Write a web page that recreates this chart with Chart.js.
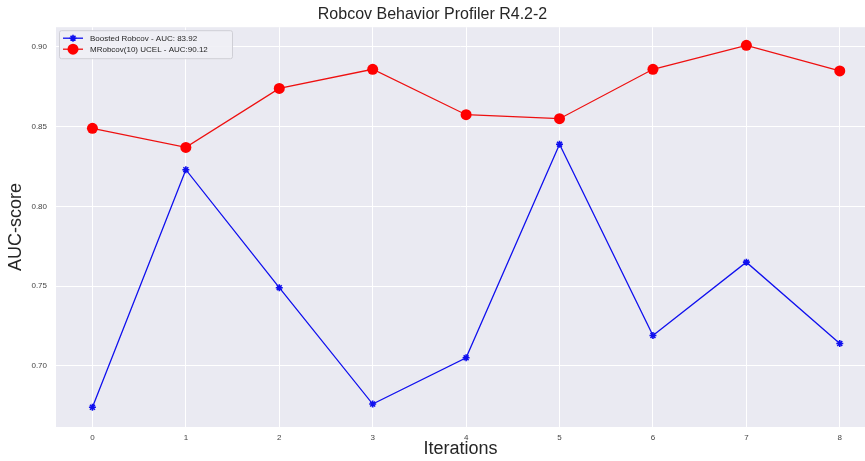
<!DOCTYPE html>
<html>
<head>
<meta charset="utf-8">
<script src="https://cdn.jsdelivr.net/npm/chart.js@4/dist/chart.umd.min.js"></script>
<style>
  html, body { margin: 0; padding: 0; background: #fff; }
  #wrap { width: 865px; height: 461px; }
</style>
</head>
<body>
<div id="wrap"><canvas id="myChart"></canvas></div>
<script>
// data
const iterations = [0, 1, 2, 3, 4, 5, 6, 7, 8];
const boostedRobcov = [0.674, 0.823, 0.749, 0.676, 0.705, 0.839, 0.719, 0.765, 0.714];
const mRobcovUcel = [0.849, 0.837, 0.874, 0.886, 0.8575, 0.855, 0.886, 0.901, 0.885];
const seriesLabels = ['Boosted Robcov - AUC: 83.92', 'MRobcov(10) UCEL - AUC:90.12'];
const yTicks = [0.70, 0.75, 0.80, 0.85, 0.90];
const xTicks = [0, 1, 2, 3, 4, 5, 6, 7, 8];

const FONT = "'Liberation Sans', Arial, sans-serif";
const BG = '#EAEAF2';

// seaborn-like grey plot background
const plotBackground = {
    id: 'plotBackground',
    beforeDraw(chart) {
        const { ctx, chartArea: a } = chart;
        ctx.save();
        ctx.fillStyle = BG;
        ctx.fillRect(a.left, a.top, a.right - a.left, a.bottom - a.top);
        ctx.restore();
    }
};

// legend drawn inside the plot, top left
const insideLegend = {
    id: 'insideLegend',
    afterDraw(chart) {
        const { ctx, chartArea: a } = chart;
        const x = a.left + 3, y = a.top + 3, w = 173, h = 28;
        ctx.save();
        ctx.fillStyle = 'rgba(240,240,245,0.9)';
        ctx.strokeStyle = '#cfcfd6';
        ctx.lineWidth = 1;
        ctx.beginPath();
        ctx.roundRect(x + 0.5, y + 0.5, w, h, 2);
        ctx.fill();
        ctx.stroke();
        ctx.font = '8px ' + FONT;
        ctx.textBaseline = 'middle';
        chart.data.datasets.forEach((ds, i) => {
            const ly = y + 8 + i * 11;
            ctx.strokeStyle = ds.borderColor;
            ctx.fillStyle = ds.backgroundColor;
            ctx.lineWidth = 1.3;
            ctx.beginPath();
            ctx.moveTo(x + 4, ly);
            ctx.lineTo(x + 24, ly);
            ctx.stroke();
            ctx.lineWidth = ds.pointBorderWidth || 1;
            Chart.helpers.drawPoint(ctx, {
                pointStyle: ds.pointStyle,
                radius: ds.pointRadius,
                borderWidth: ds.pointBorderWidth || 0
            }, x + 14, ly);
            ctx.fillStyle = '#262626';
            ctx.fillText(ds.label, x + 31, ly + 0.5);
        });
        ctx.restore();
    }
};

const ctx = document.getElementById('myChart');

new Chart(ctx, {
    type: 'line',
    data: {
        datasets: [{
            label: seriesLabels[0],
            data: iterations.map((it, i) => ({ x: it, y: boostedRobcov[i] })),
            borderColor: '#1010ee',
            backgroundColor: '#1010ee',
            borderWidth: 1.3,
            pointStyle: 'star',
            pointRadius: 3.5,
            pointBorderWidth: 1.6,
            tension: 0
        }, {
            label: seriesLabels[1],
            data: iterations.map((it, i) => ({ x: it, y: mRobcovUcel[i] })),
            borderColor: '#ee1010',
            backgroundColor: '#ff0000',
            borderWidth: 1.3,
            pointStyle: 'circle',
            pointRadius: 5.5,
            pointBorderWidth: 0,
            tension: 0
        }]
    },
    options: {
        responsive: true,
        maintainAspectRatio: false,
        devicePixelRatio: 1,
        animation: false,
        layout: { padding: 0, autoPadding: false },
        plugins: {
            legend: { display: false },
            tooltip: { enabled: false },
            title: {
                display: true,
                text: 'Robcov Behavior Profiler R4.2-2',
                color: '#262626',
                font: { family: FONT, size: 16, weight: 'normal' },
                padding: { top: 5, bottom: 3 }
            }
        },
        scales: {
            x: {
                type: 'linear',
                min: -0.39,
                max: 8.27,
                afterFit(scale) {
                    scale.height = 34;
                    scale.paddingLeft = 0;
                    scale.paddingRight = 0;
                },
                afterBuildTicks(scale) { scale.ticks = xTicks.map(v => ({ value: v })); },
                grid: { color: '#ffffff', lineWidth: 1, drawTicks: false },
                border: { display: false },
                ticks: {
                    color: '#444',
                    font: { family: FONT, size: 8 },
                    padding: 6,
                    callback: v => String(v)
                },
                title: {
                    display: true,
                    text: 'Iterations',
                    color: '#262626',
                    font: { family: FONT, size: 18 },
                    padding: { top: 0, bottom: 1 }
                }
            },
            y: {
                min: 0.6616,
                max: 0.9124,
                afterFit(scale) {
                    scale.width = 56;
                    scale.paddingTop = 0;
                    scale.paddingBottom = 0;
                },
                afterBuildTicks(scale) { scale.ticks = yTicks.map(v => ({ value: v })); },
                grid: { color: '#ffffff', lineWidth: 1, drawTicks: false },
                border: { display: false },
                ticks: {
                    color: '#444',
                    font: { family: FONT, size: 8 },
                    padding: 9,
                    callback: v => v.toFixed(2)
                },
                title: {
                    display: true,
                    text: 'AUC-score',
                    color: '#262626',
                    font: { family: FONT, size: 18 },
                    padding: { top: 5, bottom: 0 }
                }
            }
        }
    },
    plugins: [plotBackground, insideLegend]
});
</script>
</body>
</html>
